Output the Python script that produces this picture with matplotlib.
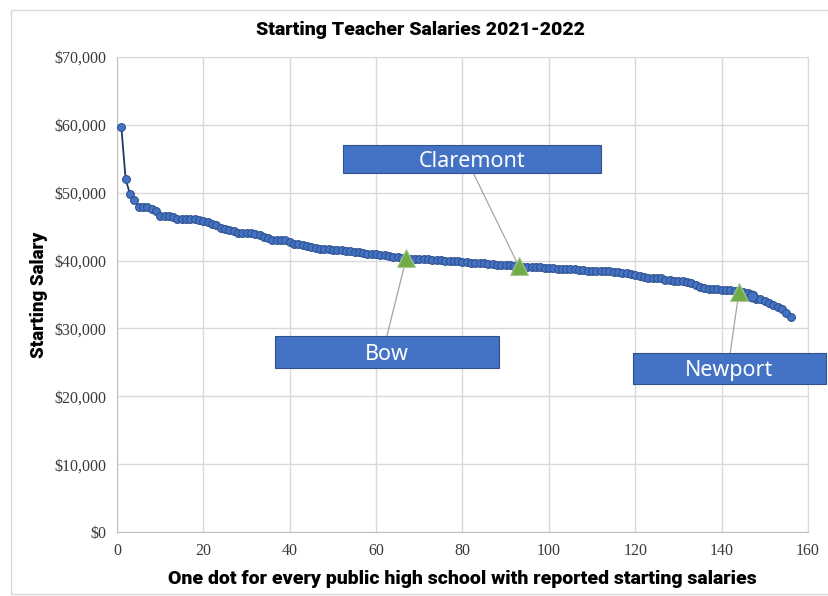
import matplotlib
matplotlib.use('Agg')
import matplotlib.pyplot as plt
from matplotlib.patches import Rectangle
from matplotlib.ticker import FuncFormatter, MultipleLocator

# ---- data (salaries in thousands of dollars, sorted high to low) ----
salaries_k = [
    59.7, 52.0, 49.8, 49.0, 47.9, 47.9, 47.9, 47.6, 47.3, 46.6,
    46.5, 46.5, 46.4, 46.1, 46.1, 46.1, 46.1, 46.1, 46.0, 45.9,
    45.7, 45.4, 45.3, 44.8, 44.7, 44.5, 44.3, 44.1, 44.0, 44.0,
    44.0, 43.9, 43.7, 43.5, 43.3, 43.1, 43.0, 43.0, 43.0, 42.8,
    42.5, 42.4, 42.3, 42.2, 42.0, 41.8, 41.7, 41.7, 41.7, 41.6,
    41.6, 41.5, 41.4, 41.4, 41.3, 41.2, 41.1, 41.0, 41.0, 40.9,
    40.8, 40.8, 40.7, 40.6, 40.5, 40.4, 40.4, 40.3, 40.3, 40.2,
    40.2, 40.2, 40.1, 40.1, 40.1, 40.0, 40.0, 40.0, 39.9, 39.8,
    39.8, 39.7, 39.7, 39.6, 39.6, 39.5, 39.5, 39.4, 39.4, 39.3,
    39.3, 39.2, 39.2, 39.1, 39.0, 39.0, 39.0, 39.0, 38.9, 38.9,
    38.9, 38.8, 38.8, 38.8, 38.7, 38.7, 38.6, 38.6, 38.5, 38.5,
    38.5, 38.4, 38.4, 38.4, 38.3, 38.3, 38.2, 38.1, 38.0, 37.9,
    37.7, 37.6, 37.5, 37.5, 37.4, 37.4, 37.2, 37.1, 37.0, 37.0,
    37.0, 36.9, 36.7, 36.4, 36.1, 35.9, 35.8, 35.8, 35.8, 35.7,
    35.7, 35.6, 35.5, 35.4, 35.4, 35.2, 34.8, 34.4, 34.3, 34.1,
    33.8, 33.5, 33.1, 32.8, 32.3, 31.7,
]
salaries = [v * 1000 for v in salaries_k]
schools = list(range(1, len(salaries) + 1))

# highlighted towns: name, rank, salary
towns = ['Bow', 'Claremont', 'Newport']
town_rank = [67, 93, 144]
town_salary = [40400, 39200, 35400]
# label boxes in data units: x0, x1, y0, y1
box_x0 = [36.6, 52.3, 119.4]
box_x1 = [88.4, 112.0, 164.1]
box_y0 = [24200, 52900, 21800]
box_y1 = [28900, 57000, 26400]
# where the leader line leaves the box
lead_x = [62.5, 82.5, 142.0]

fig = plt.figure(figsize=(8.29, 5.96), dpi=100)
ax = fig.add_axes([117/829, 64/596, 691/829, 475/596])

# outer chart border
fig.patches.append(Rectangle((11/829, 2/596), 830/829, 584/596, transform=fig.transFigure,
                             fill=False, edgecolor='#D9D9D9', linewidth=1))

ax.plot(schools, salaries, '-o', color='#1F3864', linewidth=1.3, markersize=5.6,
        markerfacecolor='#4472C4', markeredgecolor='#2F528F', markeredgewidth=0.8, zorder=3)
# one slightly larger dot
ax.plot(schools[146], salaries[146], 'o', markersize=7.5, markerfacecolor='#4472C4',
        markeredgecolor='#2F528F', zorder=3)

for i in range(len(towns)):
    cx = (box_x0[i] + box_x1[i]) / 2
    cy = (box_y0[i] + box_y1[i]) / 2
    ly = box_y0[i] if box_y0[i] > town_salary[i] else box_y1[i]
    ax.plot([lead_x[i], town_rank[i]], [ly, town_salary[i]], color='#A5A5A5', linewidth=0.9,
            zorder=2, clip_on=False)
    ax.plot(town_rank[i], town_salary[i], '^', markersize=13, markerfacecolor='#70AD47',
            markeredgecolor='#A9C99A', markeredgewidth=0.8, zorder=4)
    ax.add_patch(Rectangle((box_x0[i], box_y0[i]), box_x1[i] - box_x0[i], box_y1[i] - box_y0[i],
                           facecolor='#4472C4', edgecolor='#2F528F', linewidth=0.8,
                           zorder=5, clip_on=False))
    ax.text(cx, cy, towns[i], color='white', fontsize=15.5, family='Noto Sans',
            ha='center', va='center_baseline', zorder=6, clip_on=False)

ax.set_xlim(0, 160)
ax.set_ylim(0, 70000)
ax.xaxis.set_major_locator(MultipleLocator(20))
ax.yaxis.set_major_locator(MultipleLocator(10000))
ax.yaxis.set_major_formatter(FuncFormatter(lambda v, p: '${:,.0f}'.format(v)))
ax.grid(True, color='#D9D9D9', linewidth=1)
ax.set_axisbelow(True)
for s in ax.spines.values():
    s.set_color('#D9D9D9')
ax.spines['left'].set_color('#BFBFBF')
ax.spines['bottom'].set_color('#BFBFBF')
ax.tick_params(length=0, labelsize=11.5, labelcolor='#3A3A3A', pad=8)
for lab in ax.get_xticklabels() + ax.get_yticklabels():
    lab.set_family('Liberation Serif')

fig.text(420/829, 1 - 30/596, 'Starting Teacher Salaries 2021-2022', ha='center', va='center',
         fontsize=14, fontweight='black', family='Roboto')
ax.set_xlabel('One dot for every public high school with reported starting salaries',
              fontsize=14, fontweight='black', family='Roboto', labelpad=8)
ax.set_ylabel('Starting Salary', fontsize=13.5, fontweight='black', family='Roboto', labelpad=4)

fig.savefig('out.png', dpi=100)
